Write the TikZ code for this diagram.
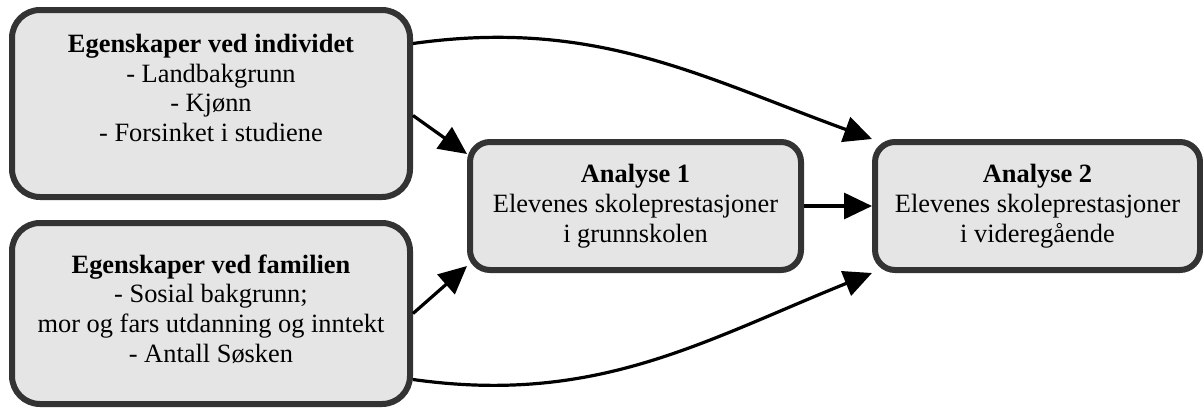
\documentclass[tikz,border=0pt]{standalone}
\usepackage{fontspec}
\setmainfont{Liberation Serif}
\usepackage{tikz}
\usetikzlibrary{arrows.meta,positioning,calc}

\begin{document}
\begin{tikzpicture}[x=0.5pt,y=-0.5pt,
    box/.style={draw=black!80, line width=3pt, fill=black!10, inner sep=0pt},
    txt/.style={align=center, font=\fontsize{13.2pt}{14.9pt}\selectfont},
    arr/.style={line width=1.6pt, -{Triangle[length=14pt,width=13pt]}}]
    \useasboundingbox (0,0) rectangle (1203,407);

    % the two groups of background factors
    \node [box, rounded corners=14pt, minimum width=199pt, minimum height=93.5pt] (indiv) at (211,103.5) {};
    \node [txt] (indivtxt) at (211,88) {\textbf{Egenskaper ved individet}\\- Landbakgrunn\\- Kjønn\\- Forsinket i studiene};
    \node [box, rounded corners=14pt, minimum width=199pt, minimum height=90.5pt] (fam) at (211,313.5) {};
    \node [txt] (famtxt) at (211,309) {\textbf{Egenskaper ved familien}\\- Sosial bakgrunn;\\mor og fars utdanning og inntekt\\- Antall Søsken};

    % the two analyses
    \node [box, txt, rounded corners=10pt, minimum width=165.5pt, minimum height=64pt] (a1) at (635.5,206) {\textbf{Analyse 1}\\Elevenes skoleprestasjoner\\i grunnskolen};
    \node [box, txt, rounded corners=10pt, minimum width=162.5pt, minimum height=64pt] (a2) at (1037.5,206) {\textbf{Analyse 2}\\Elevenes skoleprestasjoner\\i videregående};

    \draw [arr] ([yshift=-6pt]indiv.east) -- ([yshift=-7.5pt]a1.north west);
    \draw [arr] (fam.east) -- ([yshift=3.5pt]a1.south west);
    \draw [arr] (a1.east) -- (a2.west);
    \draw [arr] ([yshift=30pt]indiv.east) to[out=8, in=160] (a2.north west);
    \draw [arr] ([yshift=-33pt]fam.east) to[out=-8, in=-158] (a2.south west);
  \end{tikzpicture}
\end{document}
